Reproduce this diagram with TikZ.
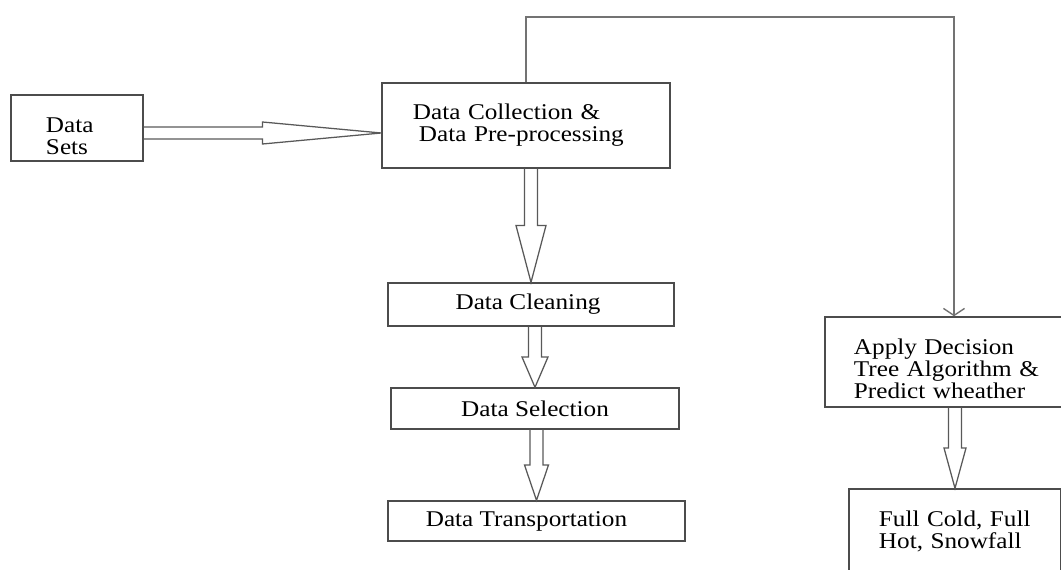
\documentclass[tikz,border=0pt]{standalone}
\usepackage{fontspec}
\setmainfont{Liberation Serif}[FakeStretch=1.12]
\usetikzlibrary{calc,positioning,arrows.meta}

\begin{document}
\begin{tikzpicture}[x=0.025cm,y=-0.025cm,
  box/.style={draw=black!70, line width=1pt, rectangle, inner sep=0pt, text=black,
    font=\fontsize{16}{15.6}\selectfont},
  hollow/.style={draw=black!65, line width=0.9pt, line join=miter},
  feedline/.style={draw=black!55, line width=1pt, -{Straight Barb[length=5pt,width=15pt]}}]

 \useasboundingbox (0,0) rectangle (1061,570);

 % boxes
 \node[box, minimum width=3.3cm, minimum height=1.65cm, inner xsep=0.875cm, text width=1.55cm, align=left] (sets) at (77,128) {\rule{0pt}{22pt}Data\\Sets};
 \node[box, minimum width=7.2cm, minimum height=2.125cm, inner xsep=0.775cm, text width=5.65cm, align=left] (coll) at (526,125.5) {Data Collection \&\\\hspace*{0.15cm}Data Pre-processing};
 \node[box, minimum width=7.15cm, minimum height=1.075cm] (clean) at (531,304.5) {Data Cleaning\hspace{0.15cm}\null};
 \node[box, minimum width=7.2cm, minimum height=1.025cm] (sel) at (535,408.5) {Data Selection};
 \node[box, minimum width=7.425cm, minimum height=1cm] (trans) at (536.5,521) {Data Transportation\hspace{0.5cm}\null};
 \node[box, minimum width=6.45cm, minimum height=2.25cm, inner xsep=0.725cm, text width=5cm, align=left] (apply) at (954,362) {\rule{0pt}{21pt}Apply Decision\\Tree Algorithm \&\\Predict wheather};
 \node[box, minimum width=5.3cm, minimum height=2.1cm, inner xsep=0.75cm, text width=3.8cm, align=left] (full) at (955,531) {Full Cold, Full\\Hot, Snowfall};

 % feedback line
 \coordinate (top) at (0,17);
 \draw[feedline] (coll.north) -- (coll.north |- top) -| (apply.north);

 % hollow arrow sets -> coll
 \coordinate (hs) at ($(sets.east)+(0,5)$);
 \coordinate (ht) at (hs -| coll.west);
 \coordinate (hm) at ($(hs)!0.5!(ht)$);
 \draw[hollow] ($(hs)+(0,-6)$) -- ($(hm)+(0,-6)$) -- ($(hm)+(0,-11)$) -- (ht) -- ($(hm)+(0,11)$) -- ($(hm)+(0,6)$) -- ($(hs)+(0,6)$);

 % hollow arrows downwards
 \foreach \a/\b/\w in {coll/clean/15, clean/sel/13, sel/trans/12, apply/full/11} {
   \coordinate (s) at (\a.south -| \b.north);
   \coordinate (m) at ($(s)!0.5!(\b.north)$);
   \draw[hollow] ($(s)+(-6.5,0)$) -- ($(m)+(-6.5,0)$) -- ($(m)+(-\w,0)$) -- (\b.north) -- ($(m)+(\w,0)$) -- ($(m)+(6.5,0)$) -- ($(s)+(6.5,0)$);
 }

\end{tikzpicture}
\end{document}
